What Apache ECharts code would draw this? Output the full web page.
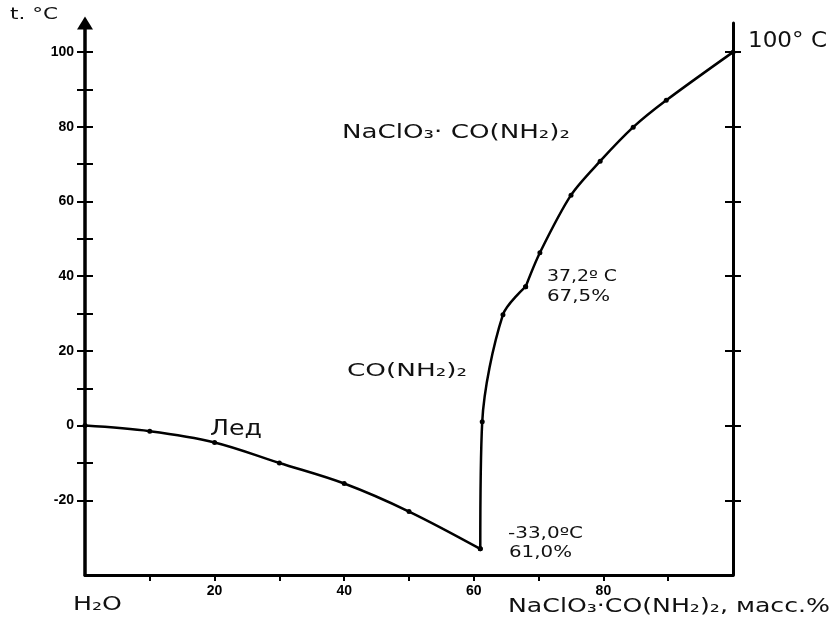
<!DOCTYPE html>
<html><head><meta charset="utf-8">
<script src="https://cdn.jsdelivr.net/npm/echarts@6/dist/echarts.min.js"></script>
<style>html,body{margin:0;padding:0;background:#fff}#c{width:832px;height:620px}</style>
</head><body><div id="c"></div>
<script>
// Ice branch
const iceX = [0, 10, 20, 30, 40, 50, 61];
const iceT = [0, -1.5, -4.5, -10, -15.5, -23, -33];
// CO(NH2)2 branch
const ureaX = [61, 61.3, 64.5, 68];
const ureaT = [-33, 1, 29.7, 37.2];
// NaClO3·CO(NH2)2 branch
const compX = [68, 70.2, 75, 79.5, 84.6, 89.7, 100];
const compT = [37.2, 46.3, 61.7, 70.8, 79.9, 87.1, 100];

const xTickValues = [10, 20, 30, 40, 50, 60, 70, 80, 90];
const xLabelValues = [20, 40, 60, 80];
const yTickValues = [-20, -10, 0, 10, 20, 30, 40, 50, 60, 70, 80, 90, 100];
const yLabelValues = [-20, 0, 20, 40, 60, 80, 100];
const yRightTickValues = [-20, 0, 20, 40, 60, 80, 100];

const zip = (xs, ys) => xs.map((x, i) => [x, ys[i]]);

const ctx = document.createElement('canvas').getContext('2d');
function txt(str, left, cy, size, width) {
  const fam = 'DejaVu Sans';
  ctx.font = size + 'px "' + fam + '"';
  const w = ctx.measureText(str).width;
  return {
    type: 'text', x: left, y: cy, scaleX: width / w, z: 100,
    style: {
      text: str, fontSize: size, fontFamily: fam, fill: '#111',
      align: 'left', verticalAlign: 'middle',
      textAlign: 'left', textVerticalAlign: 'middle'
    }
  };
}

const Y_MIN = -40, Y_MAX = 107.8;
const black = '#000';
const lineSeries = (data, sm) => ({
  type: 'line', data, smooth: sm,
  symbol: 'circle', symbolSize: 5, showSymbol: true,
  lineStyle: { color: black, width: 2.5 }, itemStyle: { color: black },
  animation: false, z: 5
});
const labelStyle = { color: black, fontWeight: 'bold', fontFamily: 'Liberation Sans', fontSize: 14 };
const yBase = (pos, inside, ticks, labels, showLine) => ({
  type: 'value', position: pos, min: Y_MIN, max: Y_MAX,
  axisLine: showLine ? { show: true, onZero: false, lineStyle: { color: black, width: pos === 'left' ? 3.5 : 3 },
    symbol: pos === 'left' ? ['none', 'triangle'] : ['none', 'none'], symbolSize: [16, 13] } : { show: false, onZero: false },
  axisTick: { show: true, inside, length: 8, customValues: ticks, lineStyle: { color: black, width: 2 } },
  axisLabel: labels ? Object.assign({ show: true, customValues: labels, margin: 11 }, labelStyle) : { show: false },
  splitLine: { show: false }
});

const option = {
  backgroundColor: '#fff',
  animation: false,
  grid: { left: 85, right: 99, top: 23, bottom: 45, containLabel: false },
  xAxis: [{
    type: 'value', min: 0, max: 100, position: 'bottom',
    axisLine: { show: true, onZero: false, lineStyle: { color: black, width: 3 } },
    axisTick: { show: true, length: 6, customValues: xTickValues, lineStyle: { color: black, width: 2 } },
    axisLabel: Object.assign({ show: true, customValues: xLabelValues, margin: 9 }, labelStyle),
    splitLine: { show: false }
  }],
  yAxis: [
    yBase('left', false, yTickValues, yLabelValues, true),
    yBase('left', true, yTickValues, null, false),
    yBase('right', false, yRightTickValues, null, true),
    yBase('right', true, yRightTickValues, null, false)
  ],
  series: [lineSeries(zip(iceX, iceT), 0.35), lineSeries(zip(ureaX, ureaT), 0.3), lineSeries(zip(compX, compT), 0.3)],
  graphic: [
    txt('t. °C', 10, 15, 16, 48),
    txt('100° C', 748, 42, 21, 79),
    txt('NaClO₃· CO(NH₂)₂', 342, 133, 20, 228),
    txt('CO(NH₂)₂', 347, 371, 18, 120),
    txt('Лед', 210, 430, 21, 52),
    txt('37,2º C', 547, 277, 15, 70),
    txt('67,5%', 547, 297, 15, 63),
    txt('-33,0ºC', 508, 534, 15, 75),
    txt('61,0%', 509, 553, 15, 63),
    txt('H₂O', 73, 605, 19, 49),
    txt('NaClO₃·CO(NH₂)₂, масс.%', 508, 607, 20, 322)
  ]
};
const chart = echarts.init(document.getElementById('c'), null, { renderer: 'canvas' });
chart.setOption(option);
</script></body></html>
